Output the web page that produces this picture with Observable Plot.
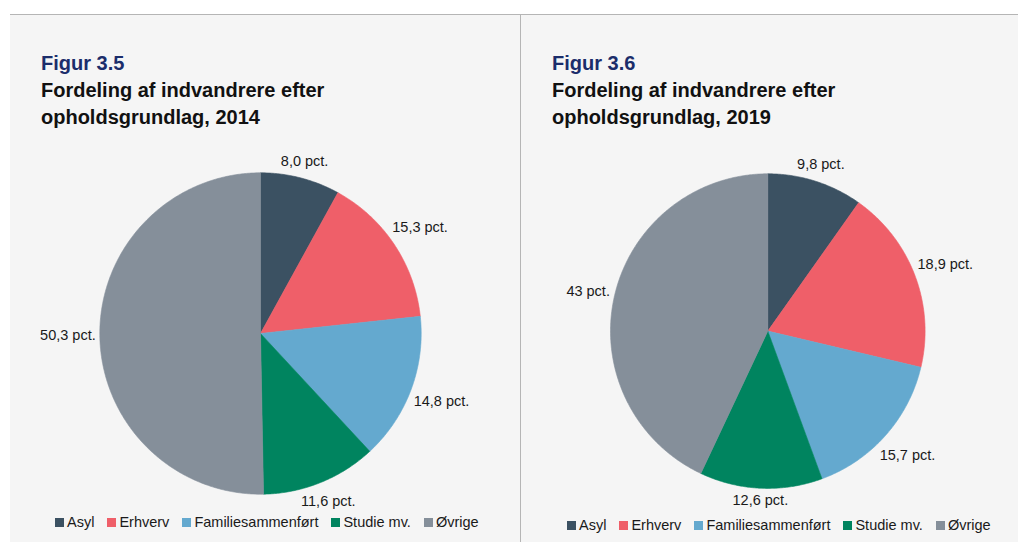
<!DOCTYPE html>
<html><head><meta charset="utf-8">
<script src="https://cdn.jsdelivr.net/npm/d3@7"></script>
<script src="https://cdn.jsdelivr.net/npm/@observablehq/plot@0.6"></script>
<style>
body{margin:0;background:#fff;font-family:"Liberation Sans",Arial,sans-serif;}
#wrap{position:relative;width:1018px;height:542px;overflow:hidden;}
.topline{position:absolute;left:10px;top:14px;width:1008px;height:1px;background:#b5b5b5;}
.divider{position:absolute;left:520px;top:15px;width:1px;height:527px;background:#b5b5b5;}
.panel{position:absolute;top:15px;height:527px;background:#f5f5f5;}
.head{position:absolute;top:35px;left:31px;font-weight:bold;font-size:20px;line-height:27px;color:#111;}
.head .fig{color:#1b2d6b;}
.chart{position:absolute;top:120px;}
.legend{position:absolute;display:flex;align-items:center;font-size:14.5px;line-height:17px;color:#1a1a1a;white-space:nowrap;}
.legend .item{display:flex;align-items:center;margin-right:13px;}
.legend .sw{width:9px;height:9px;margin-right:3px;}
</style>
</head><body>
<div id="wrap">
  <div class="topline"></div>
  <div class="panel" id="p1" style="left:10px;width:510px;">
    <div class="head"><div class="fig">Figur 3.5</div><div>Fordeling af indvandrere efter</div><div>opholdsgrundlag, 2014</div></div>
    <div class="chart" id="c1" style="left:0px;"></div>
    <div class="legend" id="l1" style="left:45px;top:499px;"></div>
  </div>
  <div class="panel" id="p2" style="left:521px;width:497px;">
    <div class="head"><div class="fig">Figur 3.6</div><div>Fordeling af indvandrere efter</div><div>opholdsgrundlag, 2019</div></div>
    <div class="chart" id="c2" style="left:0px;"></div>
    <div class="legend" id="l2" style="left:46px;top:502px;"></div>
  </div>
  <div class="divider"></div>
</div>
<script>
const categories = ["Asyl", "Erhverv", "Familiesammenført", "Studie mv.", "Øvrige"];
const colors = ["#3b5162", "#ef5f69", "#64a9cf", "#00845f", "#858f9a"];
const values2014 = [8.0, 15.3, 14.8, 11.6, 50.3];
const values2019 = [9.8, 18.9, 15.7, 12.6, 43];
const labels2014 = ["8,0 pct.", "15,3 pct.", "14,8 pct.", "11,6 pct.", "50,3 pct."];
const labels2019 = ["9,8 pct.", "18,9 pct.", "15,7 pct.", "12,6 pct.", "43 pct."];

function pieChart({values, labels, width, height, cx, cy, r}) {
  const arcs = d3.pie().sort(null).value(d => d)(values);
  const pts = [];
  arcs.forEach((a, i) => {
    const cat = categories[i];
    pts.push({cat, x: 0, y: 0});
    const n = Math.max(2, Math.ceil((a.endAngle - a.startAngle) / (Math.PI / 360)));
    for (let k = 0; k <= n; k++) {
      const t = a.startAngle + (a.endAngle - a.startAngle) * k / n;
      pts.push({cat, x: Math.sin(t), y: Math.cos(t)});
    }
    pts.push({cat, x: 0, y: 0});
  });
  const ctx = document.createElement("canvas").getContext("2d");
  ctx.font = "14.5px 'Liberation Sans'";
  const lab = arcs.map((a, i) => {
    const m = (a.startAngle + a.endAngle) / 2, s = Math.sin(m), c = Math.cos(m);
    const w = ctx.measureText(labels[i]).width, h = 14;
    const d = r + 4 + Math.abs(s) * w / 2 + Math.abs(c) * h / 2;
    return {text: labels[i], x: s * d / r, y: c * d / r};
  });
  return Plot.plot({
    width, height, margin: 0,
    x: {domain: [-1, 1], range: [cx - r, cx + r], axis: null},
    y: {domain: [-1, 1], range: [cy + r, cy - r], axis: null},
    color: {domain: categories, range: colors},
    style: {background: "transparent", fontFamily: "'Liberation Sans', Arial, sans-serif", overflow: "visible"},
    marks: [
      Plot.line(pts, {x: "x", y: "y", z: "cat", fill: "cat", stroke: "cat", strokeWidth: 0.6, curve: "linear"}),
      Plot.text(lab, {x: "x", y: "y", text: "text", fontSize: 14.5, fill: "#1a1a1a"})
    ]
  });
}

function legend(el) {
  categories.forEach((c, i) => {
    const it = document.createElement("div");
    it.className = "item";
    const sw = document.createElement("div");
    sw.className = "sw";
    sw.style.background = colors[i];
    const tx = document.createElement("span");
    tx.textContent = c;
    it.appendChild(sw); it.appendChild(tx);
    el.appendChild(it);
  });
}

// chart top at page y 135 (panel top 15 + 120)
document.getElementById("c1").appendChild(pieChart({values: values2014, labels: labels2014, width: 510, height: 380, cx: 250, cy: 198, r: 160.7}));
document.getElementById("c2").appendChild(pieChart({values: values2019, labels: labels2019, width: 497, height: 380, cx: 246.3, cy: 195.6, r: 157.3}));
legend(document.getElementById("l1"));
legend(document.getElementById("l2"));
</script>
</body></html>
